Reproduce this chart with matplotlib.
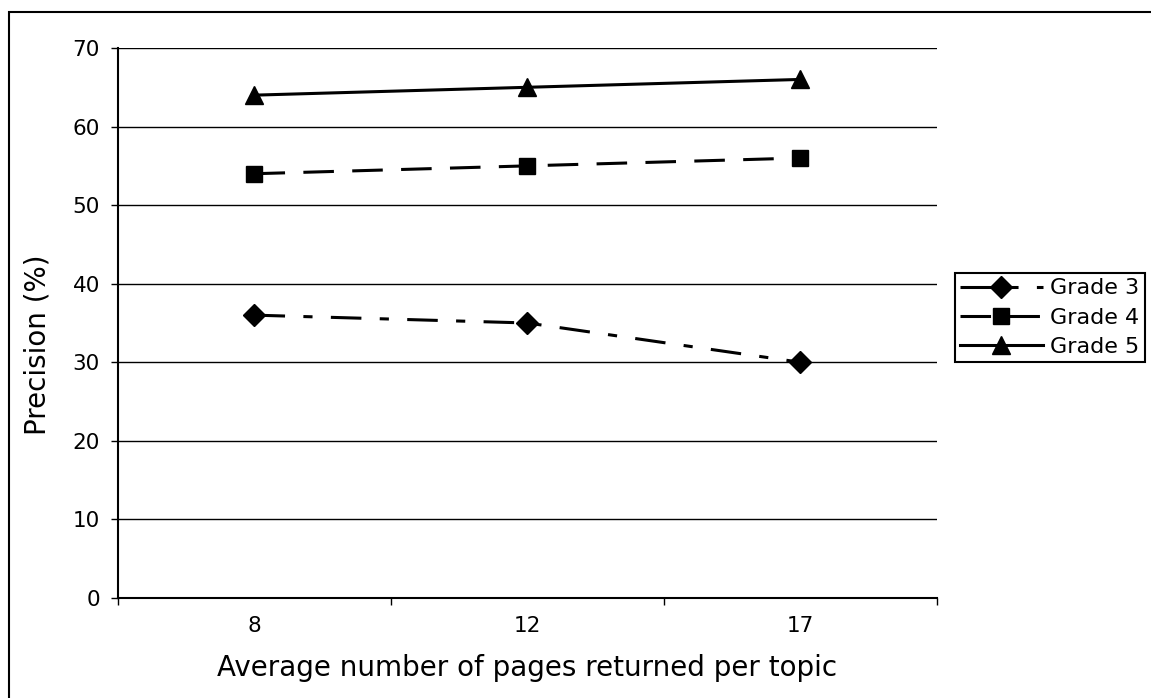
import matplotlib.pyplot as plt
from matplotlib.patches import Rectangle
from matplotlib.ticker import FixedLocator

categories = ['8', '12', '17']
grade3 = [36, 35, 30]
grade4 = [54, 55, 56]
grade5 = [64, 65, 66]
yticks = [0, 10, 20, 30, 40, 50, 60, 70]

plt.rcParams['font.family'] = 'DejaVu Sans'

fig = plt.figure(figsize=(11.51, 6.98), dpi=100)
ax = fig.add_axes([118/1151, 1 - 598/698, (937-118)/1151, (598-48)/698])

# outer chart border
fig.patches.append(Rectangle((9/1151, -0.1), 1.2, 1 - 12/698 + 0.1, transform=fig.transFigure,
                             fill=False, edgecolor='black', linewidth=1.5))

x = range(len(categories))
ax.plot(x, grade3, color='black', lw=2.2, dashes=(10, 6, 3, 6), marker='D', markersize=11, label='Grade 3')
ax.plot(x, grade4, color='black', lw=2.2, dashes=(10, 6), marker='s', markersize=12, label='Grade 4')
ax.plot(x, grade5, color='black', lw=2.2, marker='^', markersize=13, label='Grade 5')

ax.set_xlim(-0.5, 2.5)
ax.set_ylim(0, 70)
ax.set_yticks(yticks)
ax.yaxis.grid(True, color='black', linewidth=1)
ax.set_axisbelow(True)
ax.set_xticks(list(x))
ax.set_xticklabels(categories)
ax.xaxis.set_minor_locator(FixedLocator([-0.5, 0.5, 1.5, 2.5]))
ax.tick_params(axis='x', which='major', length=0, pad=13, labelsize=15.5)
ax.tick_params(axis='x', which='minor', length=5, width=1, direction='out')
ax.tick_params(axis='y', length=5, width=1, pad=8, labelsize=15.5)
for s in ['top', 'right']:
    ax.spines[s].set_visible(False)
for s in ['left', 'bottom']:
    ax.spines[s].set_linewidth(1.5)

ax.set_xlabel('Average number of pages returned per topic', fontsize=20, labelpad=13)
ax.set_ylabel('Precision (%)', fontsize=20)
ax.yaxis.set_label_coords(-0.081, 0.46)

leg = fig.legend(loc='upper left', bbox_to_anchor=(955/1151, 1 - 273/698), fontsize=16,
                 frameon=True, fancybox=False, edgecolor='black', framealpha=1,
                 handlelength=3.7, borderaxespad=0, handletextpad=0.35, labelspacing=0.42,
                 borderpad=0.24)
leg.get_frame().set_linewidth(1.5)

fig.savefig('out.png', dpi=100)
